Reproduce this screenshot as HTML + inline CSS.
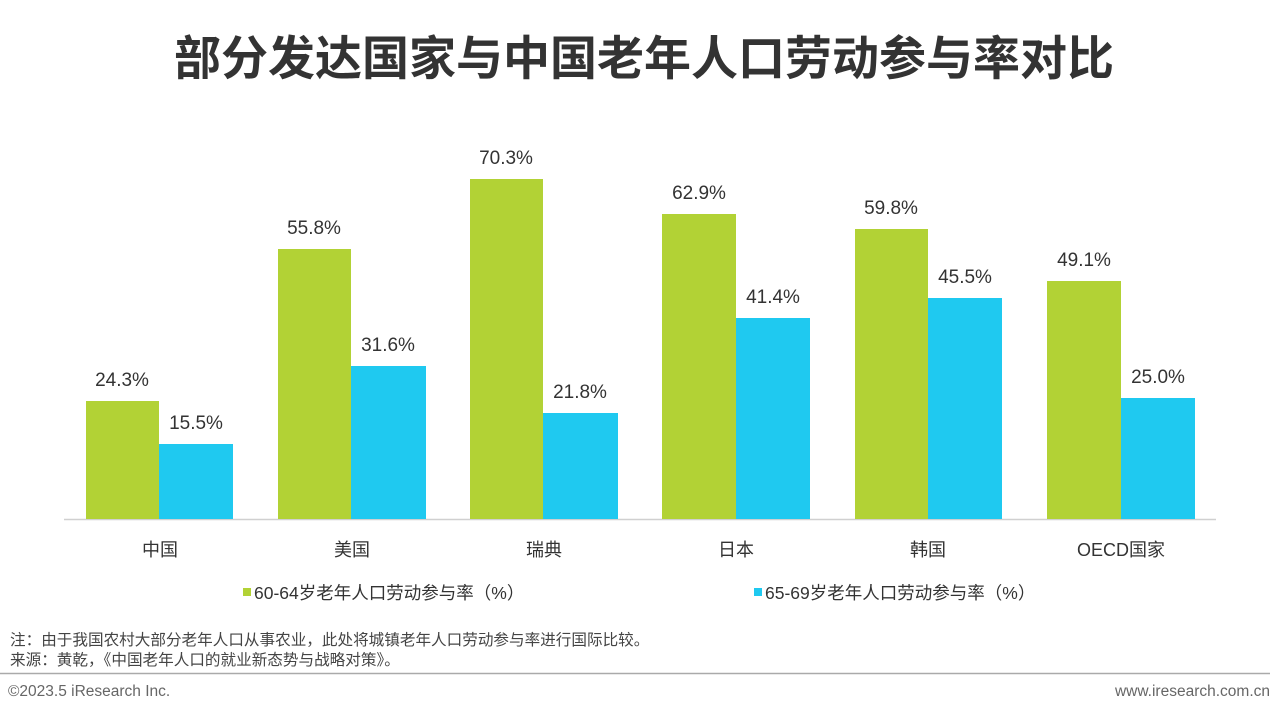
<!DOCTYPE html>
<html><head><meta charset="utf-8"><style>
body{margin:0;width:1280px;height:715px;background:#fff;overflow:hidden;position:relative;font-family:"Liberation Sans","Noto Sans CJK SC",sans-serif;}
.t{position:absolute;white-space:nowrap;}
</style></head><body>
<div class="t" style="left:0;width:1288px;text-align:center;top:20px;font-size:47px;font-weight:bold;color:#333;">部分发达国家与中国老年人口劳动参与率对比</div>
<svg width="1280" height="715" style="position:absolute;left:0;top:0" font-family="Liberation Sans, Noto Sans CJK SC, sans-serif">
<line x1="64" y1="519.5" x2="1216" y2="519.5" stroke="#d0d0d0" stroke-width="1.5"/>
<g font-size="19" fill="#333" text-anchor="middle">
<rect x="86" y="401" width="73" height="118" fill="#b2d235"/><rect x="159" y="444" width="74" height="75" fill="#1fc9f0"/>
<text x="122" y="386">24.3%</text><text x="196" y="429">15.5%</text>
<rect x="278" y="249" width="73" height="270" fill="#b2d235"/><rect x="351" y="366" width="75" height="153" fill="#1fc9f0"/>
<text x="314" y="234">55.8%</text><text x="388" y="351">31.6%</text>
<rect x="470" y="179" width="73" height="340" fill="#b2d235"/><rect x="543" y="413" width="75" height="106" fill="#1fc9f0"/>
<text x="506" y="164">70.3%</text><text x="580" y="398">21.8%</text>
<rect x="662" y="214" width="74" height="305" fill="#b2d235"/><rect x="736" y="318" width="74" height="201" fill="#1fc9f0"/>
<text x="699" y="199">62.9%</text><text x="773" y="303">41.4%</text>
<rect x="855" y="229" width="73" height="290" fill="#b2d235"/><rect x="928" y="298" width="74" height="221" fill="#1fc9f0"/>
<text x="891" y="214">59.8%</text><text x="965" y="283">45.5%</text>
<rect x="1047" y="281" width="74" height="238" fill="#b2d235"/><rect x="1121" y="398" width="74" height="121" fill="#1fc9f0"/>
<text x="1084" y="266">49.1%</text><text x="1158" y="383">25.0%</text>
</g>
<g font-size="18" fill="#333" text-anchor="middle">
<text x="160" y="556">中国</text><text x="352" y="556">美国</text><text x="544" y="556">瑞典</text><text x="736" y="556">日本</text><text x="928" y="556">韩国</text><text x="1121" y="556">OECD国家</text>
</g>
<rect x="243" y="588" width="8" height="8" fill="#b2d235"/>
<text x="254" y="599" font-size="17.5" fill="#333">60-64岁老年人口劳动参与率（%）</text>
<rect x="754" y="588" width="8" height="8" fill="#1fc9f0"/>
<text x="765" y="599" font-size="17.5" fill="#333">65-69岁老年人口劳动参与率（%）</text>
<text x="10" y="645" font-size="15.6" fill="#444">注：由于我国农村大部分老年人口从事农业，此处将城镇老年人口劳动参与率进行国际比较。</text>
<text x="10" y="665" font-size="15.6" fill="#444">来源：黄乾，《中国老年人口的就业新态势与战略对策》。</text>
<line x1="0" y1="673.5" x2="1270" y2="673.5" stroke="#aaa" stroke-width="1.5"/>
<text x="8" y="696" font-size="15.5" fill="#666">©2023.5 iResearch Inc.</text>
<text x="1270" y="696" font-size="15.5" fill="#666" text-anchor="end">www.iresearch.com.cn</text>
</svg>
</body></html>
